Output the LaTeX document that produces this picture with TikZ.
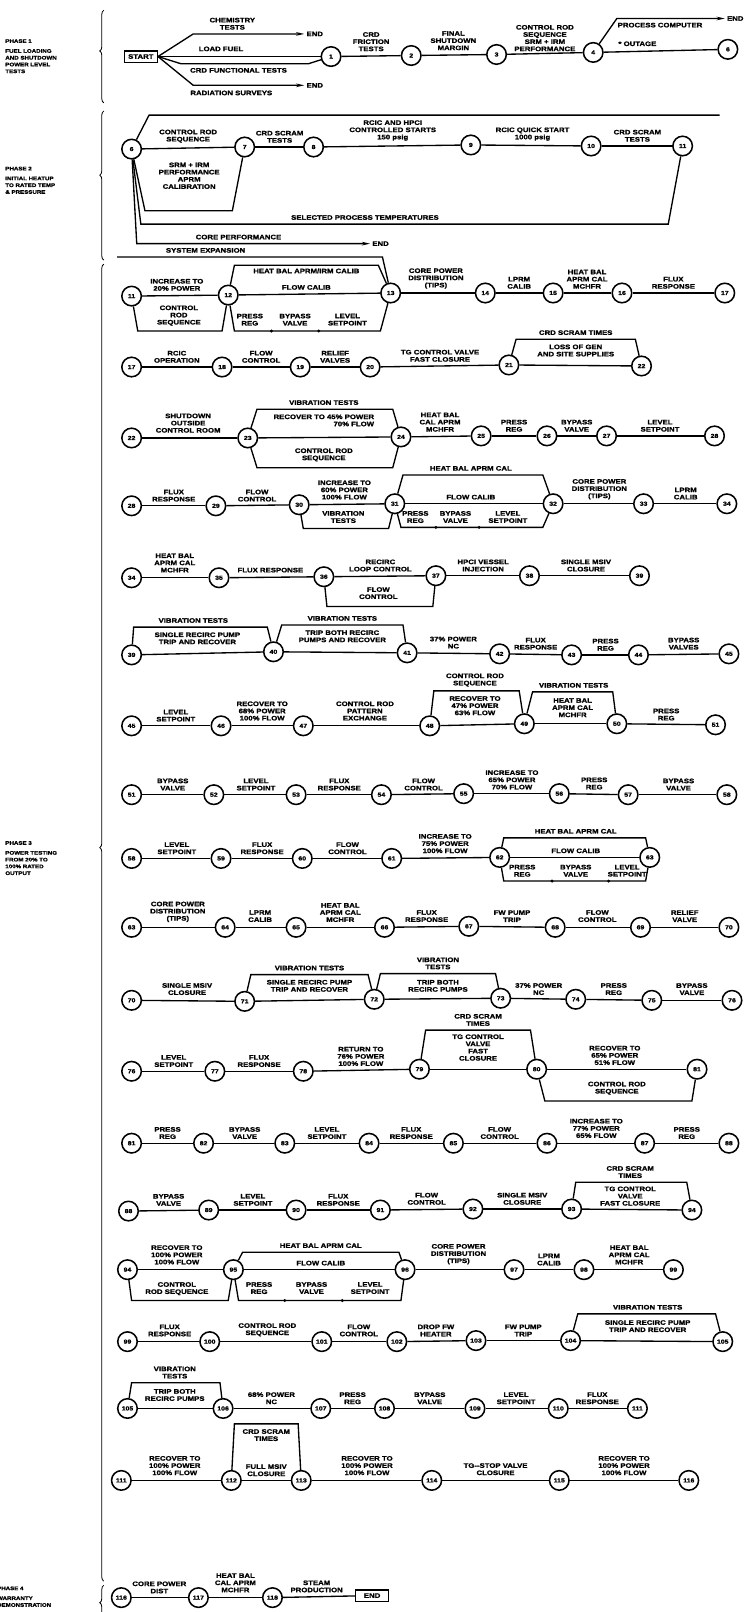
\documentclass[tikz,border=0pt]{standalone}
\usepackage{fontspec}
\newfontfamily\lblfont{Liberation Sans}[FakeStretch=1.2,BoldFeatures={FakeBold=1.3}]
\usetikzlibrary{arrows.meta,decorations.pathreplacing}
\newcommand\dfont{\lblfont\fontsize{6.3}{7}\selectfont\bfseries}
\newcommand\nfont{\lblfont\fontsize{5.6}{5.6}\selectfont\bfseries}
\newcommand\sfont{\lblfont\fontsize{5}{6.6}\selectfont\bfseries}
\newcounter{lbc}
\newcommand\Ab[3]{\stepcounter{lbc}\node[lb,anchor=south] (L\number\value{lbc}) at (#1,#2) {#3};}
\newcommand\Bl[3]{\stepcounter{lbc}\node[lb,anchor=north] (L\number\value{lbc}) at (#1,#2) {#3};}
\newcommand\chain[2]{\foreach \a/\b in {#2} \draw[ln] (#1\a) -- (#1\b);}
\tikzset{
 cir/.style={circle,draw,line width=1.5pt,minimum size=19pt,inner sep=0pt,font=\nfont,fill=white},
 ln/.style={line width=1.3pt},
 lb/.style={align=center,font=\dfont,inner sep=0pt},
 sbox/.style={draw,line width=1.3pt,font=\dfont,inner sep=2.5pt,minimum width=32pt,minimum height=11pt},
 arr/.style={ln,-{Stealth[length=8pt,width=3.5pt]},shorten >=2pt},
 brc/.style={decorate,decoration={brace,amplitude=4pt,aspect=#1},line width=0.8pt},
 side/.style={align=left,font=\sfont,inner sep=0pt,anchor=north west},
 dt/.style={circle,fill,inner sep=0pt,minimum size=3.2pt}
}
\begin{document}
\begin{tikzpicture}[x=1pt,y=-1pt]
\path[use as bounding box,fill=white] (0,0) rectangle (724,1568);

% ---------- side labels and braces
\node[side] (s1) at (5,38) {PHASE 1\\[3pt]FUEL LOADING\\AND SHUTDOWN\\POWER LEVEL\\TESTS};
\node[side] (s2) at (5,162) {PHASE 2\\[3pt]INITIAL HEATUP\\TO RATED TEMP\\\& PRESSURE};
\node[side] (s3) at (5,818) {PHASE 3\\[3pt]POWER TESTING\\FROM 20\% TO\\100\% RATED\\OUTPUT};
\node[side] (s4) at (-3,1543) {PHASE 4\\[3pt]WARRANTY\\DEMONSTRATION};
\draw[brc=0.56] (101,100) -- (101,10);
\draw[brc=0.57] (101,253) -- (101,108);
\draw[brc=0.557] (101,1538) -- (101,257);
\draw[brc=0.5] (101,1576) -- (101,1542);

% ---------- Phase 1
\node[sbox] (start) at (137,55) {START};
\foreach \n/\x/\y in {1/322/55,2/400/54,3/483/53,4/577/51,6/708/48} \node[cir] (P\n) at (\x,\y) {\n};
\draw[ln] (start) -- (P1);
\chain{P}{1/2,2/3,3/4,4/6}
\node[lb,anchor=west] (e1) at (298,33) {END};
\draw[arr] (start.east) -- (188,33) -- (e1);
\draw[ln] (start.east) -- (176,62) -- (300,62) -- (P1);
\node[lb,anchor=west] (e2) at (298,83) {END};
\draw[arr] (start.east) -- (188,83) -- (e2);
\node[lb,anchor=west] (e3) at (707,18) {END};
\draw[arr] (P4) -- (600,18) -- (e3);
\Ab{226}{29}{CHEMISTRY\\TESTS}
\Ab{215}{50}{LOAD FUEL}
\Bl{232}{66}{CRD FUNCTIONAL TESTS}
\Bl{225}{88}{RADIATION SURVEYS}
\Ab{361}{50}{CRD\\FRICTION\\TESTS}
\Ab{441}{49}{FINAL\\SHUTDOWN\\MARGIN}
\Ab{530}{50}{CONTROL ROD\\SEQUENCE\\SRM + IRM\\PERFORMANCE}
\Bl{642}{22}{PROCESS COMPUTER}
\Ab{620}{45}{* OUTAGE}

% ---------- Phase 2
\foreach \n/\x/\y in {6/128/145,7/238/143,8/305/143,9/458/141,10/575/142,11/664/142} \node[cir] (H\n) at (\x,\y) {\n};
\chain{H}{6/7,7/8,8/9,9/10,10/11}
\coordinate (t2) at (700,112);
\draw[ln] (H6) -- (145,112) -- (t2);
\draw[ln] (H6) -- (141,205) -- (226,205) -- (H7);
\draw[ln] (H6) -- (137,218) -- (650,218) -- (H11);
\node[lb,anchor=west] (e4) at (362,237) {END};
\draw[arr] (H6) -- (133,237) -- (e4);
\Ab{183}{139}{CONTROL ROD\\SEQUENCE}
\Bl{184}{158}{SRM + IRM\\PERFORMANCE\\APRM\\CALIBRATION}
\Ab{272}{139}{CRD SCRAM\\TESTS}
\Ab{382}{137}{RCIC AND HPCI\\CONTROLLED STARTS\\150 psig}
\Ab{518}{137}{RCIC QUICK START\\1000 psig}
\Ab{620}{138}{CRD SCRAM\\TESTS}
\Ab{355}{214}{SELECTED PROCESS TEMPERATURES}
\Ab{232}{233}{CORE PERFORMANCE}

% ---------- Row A (11-17)
\foreach \n/\x/\y in {11/128/288,12/222/287,13/380/285,14/472/285,15/538/285,16/605/285,17/705/285} \node[cir] (A\n) at (\x,\y) {\n};
\chain{A}{11/12,12/13,13/14,14/15,15/16,16/17}
\coordinate (sx) at (114,250);
\draw[ln] (sx) -- (372,250) -- (A13);
\draw[ln] (A12) -- (228,258) -- (368,258) -- (A13);
\draw[ln] (A11) -- (134,322) -- (216,322) -- (A12);
\draw[ln] (A12) -- (228,322) -- (370,322) -- (A13);
\node[dt] (dA1) at (264,322) {}; \node[dt] (dA2) at (310,322) {};
\Ab{200}{246}{SYSTEM EXPANSION}
\Bl{298}{261}{HEAT BAL APRM/IRM CALIB}
\Ab{298}{282}{FLOW CALIB}
\Ab{172}{283}{INCREASE TO\\20\% POWER}
\Bl{174}{297}{CONTROL\\ROD\\SEQUENCE}
\Bl{243}{305}{PRESS\\REG}
\Bl{287}{305}{BYPASS\\VALVE}
\Bl{338}{305}{LEVEL\\SETPOINT}
\Ab{424}{281}{CORE POWER\\DISTRIBUTION\\(TIPS)}
\Ab{505}{281}{LPRM\\CALIB}
\Ab{571}{281}{HEAT BAL\\APRM CAL\\MCHFR}
\Ab{655}{281}{FLUX\\RESPONSE}

% ---------- Row B (17-22)
\foreach \n/\x/\y in {17/128/357,18/216/357,19/292/357,20/360/357,21/495/355,22/624/356} \node[cir] (B\n) at (\x,\y) {\n};
\chain{B}{17/18,18/19,19/20,20/21,21/22}
\draw[ln] (B21) -- (502,330) -- (618,330) -- (B22);
\Ab{172}{353}{RCIC\\OPERATION}
\Ab{254}{353}{FLOW\\CONTROL}
\Ab{326}{353}{RELIEF\\VALVES}
\Ab{428}{352}{TG CONTROL VALVE\\FAST CLOSURE}
\Ab{560}{326}{CRD SCRAM TIMES}
\Bl{560}{335}{LOSS OF GEN\\AND SITE SUPPLIES}

% ---------- Row C (22-28)
\foreach \n/\x/\y in {22/128/426,23/241/426,24/390/425,25/468/424,26/532/424,27/590/424,28/695/424} \node[cir] (C\n) at (\x,\y) {\n};
\chain{C}{22/23,23/24,24/25,25/26,26/27,27/28}
\draw[ln] (C23) -- (250,398) -- (382,398) -- (C24);
\draw[ln] (C23) -- (250,455) -- (382,455) -- (C24);
\Ab{183}{421}{SHUTDOWN\\OUTSIDE\\CONTROL ROOM}
\Ab{315}{394}{VIBRATION TESTS}
\stepcounter{lbc}\node[lb,align=right,anchor=north] (L\number\value{lbc}) at (315,403) {RECOVER TO 45\% POWER\\70\% FLOW};
\Bl{315}{436}{CONTROL ROD\\SEQUENCE}
\Ab{428}{420}{HEAT BAL\\CAL APRM\\MCHFR}
\Ab{500}{420}{PRESS\\REG}
\Ab{561}{420}{BYPASS\\VALVE}
\Ab{642}{420}{LEVEL\\SETPOINT}

% ---------- Row D (28-34)
\foreach \n/\x/\y in {28/128/492,29/210/492,30/291/491,31/384/490,32/538/490,33/626/490,34/707/490} \node[cir] (D\n) at (\x,\y) {\n};
\chain{D}{28/29,29/30,30/31,31/32,32/33,33/34}
\draw[ln] (D31) -- (392,462) -- (528,462) -- (D32);
\draw[ln] (D31) -- (390,513) -- (528,513) -- (D32);
\draw[ln] (D30) -- (295,514) -- (378,514) -- (D31);
\node[dt] (dD1) at (424,513) {}; \node[dt] (dD2) at (466,513) {};
\Ab{169}{488}{FLUX\\RESPONSE}
\Ab{250}{488}{FLOW\\CONTROL}
\Ab{335}{486}{INCREASE TO\\60\% POWER\\100\% FLOW}
\Ab{458}{458}{HEAT BAL APRM CAL}
\Ab{458}{486}{FLOW CALIB}
\Bl{404}{497}{PRESS\\REG}
\Bl{443}{497}{BYPASS\\VALVE}
\Bl{494}{497}{LEVEL\\SETPOINT}
\Bl{334}{497}{VIBRATION\\TESTS}
\Ab{583}{486}{CORE POWER\\DISTRIBUTION\\(TIPS)}
\Ab{667}{486}{LPRM\\CALIB}

% ---------- Row E (34-39)
\foreach \n/\x/\y in {34/128/562,35/213/562,36/315/561,37/424/560,38/515/560,39/622/560} \node[cir] (E\n) at (\x,\y) {\n};
\chain{E}{34/35,35/36,36/37,37/38,38/39}
\draw[ln] (E36) -- (318,590) -- (421,590) -- (E37);
\Ab{170}{557}{HEAT BAL\\APRM CAL\\MCHFR}
\Ab{263}{557}{FLUX RESPONSE}
\Ab{370}{556}{RECIRC\\LOOP CONTROL}
\Bl{368}{571}{FLOW\\CONTROL}
\Ab{470}{556}{HPCI VESSEL\\INJECTION}
\Ab{570}{556}{SINGLE MSIV\\CLOSURE}

% ---------- Row F (39-45)
\foreach \n/\x/\y in {39/128/637,40/266/634,41/396/635,42/486/636,43/556/637,44/621/637,45/709/636} \node[cir] (F\n) at (\x,\y) {\n};
\chain{F}{39/40,40/41,41/42,42/43,43/44,44/45}
\draw[ln] (F39) -- (130,610) -- (260,610) -- (F40);
\draw[ln] (F40) -- (274,608) -- (392,608) -- (F41);
\Ab{188}{606}{VIBRATION TESTS}
\Bl{192}{615}{SINGLE RECIRC PUMP\\TRIP AND RECOVER}
\Ab{333}{604}{VIBRATION TESTS}
\Bl{333}{613}{TRIP BOTH RECIRC\\PUMPS AND RECOVER}
\Ab{441}{631}{37\% POWER\\NC}
\Ab{521}{632}{FLUX\\RESPONSE}
\Ab{589}{633}{PRESS\\REG}
\Ab{665}{632}{BYPASS\\VALVES}

% ---------- Row G (45-51)
\foreach \n/\x/\y in {45/128/706,46/215/706,47/295/706,48/418/706,49/510/704,50/600/704,51/696/705} \node[cir] (G\n) at (\x,\y) {\n};
\chain{G}{45/46,46/47,47/48,48/49,49/50,50/51}
\draw[ln] (G48) -- (422,672) -- (505,672) -- (G49);
\draw[ln] (G49) -- (518,673) -- (596,673) -- (G50);
\Ab{171}{702}{LEVEL\\SETPOINT}
\Ab{255}{701}{RECOVER TO\\68\% POWER\\100\% FLOW}
\Ab{355}{701}{CONTROL ROD\\PATTERN\\EXCHANGE}
\Ab{462}{668}{CONTROL ROD\\SEQUENCE}
\Bl{462}{677}{RECOVER TO\\47\% POWER\\63\% FLOW}
\Ab{558}{669}{VIBRATION TESTS}
\Bl{557}{679}{HEAT BAL\\APRM CAL\\MCHFR}
\Ab{648}{701}{PRESS\\REG}

% ---------- Row H (51-58)
\foreach \n/\x/\y in {51/128/773,52/208/773,53/288/773,54/371/773,55/451/772,56/544/772,57/611/773,58/707/773} \node[cir] (R\n) at (\x,\y) {\n};
\chain{R}{51/52,52/53,53/54,54/55,55/56,56/57,57/58}
\Ab{168}{769}{BYPASS\\VALVE}
\Ab{249}{769}{LEVEL\\SETPOINT}
\Ab{330}{769}{FLUX\\RESPONSE}
\Ab{412}{769}{FLOW\\CONTROL}
\Ab{498}{768}{INCREASE TO\\65\% POWER\\70\% FLOW}
\Ab{578}{768}{PRESS\\REG}
\Ab{660}{769}{BYPASS\\VALVE}

% ---------- Row I (58-63)
\foreach \n/\x/\y in {58/128/835,59/215/835,60/294/835,61/381/835,62/486/834,63/632/834} \node[cir] (I\n) at (\x,\y) {\n};
\chain{I}{58/59,59/60,60/61,61/62,62/63}
\draw[ln] (I62) -- (490,815) -- (628,815) -- (I63);
\draw[ln] (I62) -- (490,857) -- (628,857) -- (I63);
\node[dt] (dI1) at (537,857) {}; \node[dt] (dI2) at (592,857) {};
\Ab{172}{831}{LEVEL\\SETPOINT}
\Ab{255}{831}{FLUX\\RESPONSE}
\Ab{338}{831}{FLOW\\CONTROL}
\Ab{433}{830}{INCREASE TO\\75\% POWER\\100\% FLOW}
\Ab{560}{811}{HEAT BAL APRM CAL}
\Ab{560}{830}{FLOW CALIB}
\Bl{508}{841}{PRESS\\REG}
\Bl{560}{841}{BYPASS\\VALVE}
\Bl{610}{841}{LEVEL\\SETPOINT}

% ---------- Row J (63-70)
\foreach \n/\x/\y in {63/128/902,64/219/902,65/288/902,66/374/902,67/456/901,68/540/902,69/623/902,70/709/902} \node[cir] (J\n) at (\x,\y) {\n};
\chain{J}{63/64,64/65,65/66,66/67,67/68,68/69,69/70}
\Ab{173}{897}{CORE POWER\\DISTRIBUTION\\(TIPS)}
\Ab{253}{897}{LPRM\\CALIB}
\Ab{331}{897}{HEAT BAL\\APRM CAL\\MCHFR}
\Ab{415}{897}{FLUX\\RESPONSE}
\Ab{498}{897}{FW PUMP\\TRIP}
\Ab{581}{897}{FLOW\\CONTROL}
\Ab{666}{897}{RELIEF\\VALVE}

% ---------- Row K (70-76)
\foreach \n/\x/\y in {70/128/973,71/238/974,72/364/972,73/487/971,74/560/972,75/634/973,76/712/973} \node[cir] (K\n) at (\x,\y) {\n};
\chain{K}{70/71,71/72,72/73,73/74,74/75,75/76}
\draw[ln] (K71) -- (244,948) -- (358,948) -- (K72);
\draw[ln] (K72) -- (370,947) -- (482,947) -- (K73);
\Ab{182}{968}{SINGLE MSIV\\CLOSURE}
\Ab{301}{944}{VIBRATION TESTS}
\Bl{301}{953}{SINGLE RECIRC PUMP\\TRIP AND RECOVER}
\Ab{426}{943}{VIBRATION\\TESTS}
\Bl{426}{953}{TRIP BOTH\\RECIRC PUMPS}
\Ab{524}{968}{37\% POWER\\NC}
\Ab{597}{968}{PRESS\\REG}
\Ab{673}{968}{BYPASS\\VALVE}

% ---------- Row L (76-81)
\foreach \n/\x/\y in {76/128/1042,77/209/1042,78/295/1042,79/408/1040,80/522/1040,81/678/1040} \node[cir] (M\n) at (\x,\y) {\n};
\chain{M}{76/77,77/78,78/79,79/80,80/81}
\draw[ln] (M79) -- (414,1002) -- (516,1002) -- (M80);
\draw[ln] (M80) -- (530,1071) -- (673,1071) -- (M81);
\Ab{169}{1038}{LEVEL\\SETPOINT}
\Ab{252}{1038}{FLUX\\RESPONSE}
\Ab{351}{1037}{RETURN TO\\76\% POWER\\100\% FLOW}
\Ab{465}{998}{CRD SCRAM\\TIMES}
\Bl{465}{1006}{TG CONTROL\\VALVE\\FAST\\CLOSURE}
\Ab{598}{1036}{RECOVER TO\\65\% POWER\\51\% FLOW}
\Bl{600}{1052}{CONTROL ROD\\SEQUENCE}

% ---------- Row M (81-88)
\foreach \n/\x/\y in {81/128/1112,82/198/1112,83/277/1112,84/359/1112,85/441/1112,86/532/1112,87/627/1112,88/709/1112} \node[cir] (N\n) at (\x,\y) {\n};
\chain{N}{81/82,82/83,83/84,84/85,85/86,86/87,87/88}
\Ab{163}{1108}{PRESS\\REG}
\Ab{238}{1108}{BYPASS\\VALVE}
\Ab{318}{1108}{LEVEL\\SETPOINT}
\Ab{400}{1108}{FLUX\\RESPONSE}
\Ab{486}{1108}{FLOW\\CONTROL}
\Ab{580}{1107}{INCREASE TO\\77\% POWER\\65\% FLOW}
\Ab{668}{1108}{PRESS\\REG}

% ---------- Row N (88-94)
\foreach \n/\x/\y in {88/125/1178,89/203/1177,90/288/1177,91/370/1177,92/460/1176,93/556/1176,94/673/1177} \node[cir] (O\n) at (\x,\y) {\n};
\chain{O}{88/89,89/90,90/91,91/92,92/93,93/94}
\draw[ln] (O93) -- (560,1150) -- (668,1150) -- (O94);
\Ab{164}{1173}{BYPASS\\VALVE}
\Ab{246}{1173}{LEVEL\\SETPOINT}
\Ab{329}{1173}{FLUX\\RESPONSE}
\Ab{415}{1172}{FLOW\\CONTROL}
\Ab{508}{1172}{SINGLE MSIV\\CLOSURE}
\Ab{613}{1146}{CRD SCRAM\\TIMES}
\Bl{613}{1154}{TG CONTROL\\VALVE\\FAST CLOSURE}

% ---------- Row O (94-99)
\foreach \n/\x/\y in {94/124/1235,95/227/1235,96/394/1235,97/500/1235,98/568/1235,99/655/1235} \node[cir] (S\n) at (\x,\y) {\n};
\chain{S}{94/95,95/96,96/97,97/98,98/99}
\draw[ln] (S94) -- (128,1265) -- (222,1265) -- (S95);
\draw[ln] (S95) -- (236,1218) -- (388,1218) -- (S96);
\draw[ln] (S95) -- (232,1265) -- (390,1265) -- (S96);
\node[dt] (dS1) at (277,1265) {}; \node[dt] (dS2) at (333,1265) {};
\Ab{172}{1230}{RECOVER TO\\100\% POWER\\100\% FLOW}
\Bl{172}{1247}{CONTROL\\ROD SEQUENCE}
\Ab{312}{1214}{HEAT BAL APRM CAL}
\Ab{312}{1231}{FLOW CALIB}
\Bl{252}{1247}{PRESS\\REG}
\Bl{303}{1247}{BYPASS\\VALVE}
\Bl{360}{1247}{LEVEL\\SETPOINT}
\Ab{446}{1230}{CORE POWER\\DISTRIBUTION\\(TIPS)}
\Ab{534}{1231}{LPRM\\CALIB}
\Ab{612}{1230}{HEAT BAL\\APRM CAL\\MCHFR}

% ---------- Row P (99-105)
\foreach \n/\x/\y in {99/124/1305,100/204/1305,101/313/1305,102/386/1305,103/463/1304,104/555/1304,105/703/1305} \node[cir] (T\n) at (\x,\y) {\n};
\chain{T}{99/100,100/101,101/102,102/103,103/104,104/105}
\draw[ln] (T104) -- (562,1278) -- (696,1278) -- (T105);
\Ab{165}{1300}{FLUX\\RESPONSE}
\Ab{260}{1300}{CONTROL ROD\\SEQUENCE}
\Ab{349}{1300}{FLOW\\CONTROL}
\Ab{424}{1300}{DROP FW\\HEATER}
\Ab{509}{1300}{FW PUMP\\TRIP}
\Ab{630}{1274}{VIBRATION TESTS}
\Bl{630}{1284}{SINGLE RECIRC PUMP\\TRIP AND RECOVER}

% ---------- Row Q (105-111)
\foreach \n/\x/\y in {105/124/1370,106/217/1370,107/312/1370,108/374/1370,109/462/1370,110/543/1370,111/620/1370} \node[cir] (U\n) at (\x,\y) {\n};
\chain{U}{105/106,106/107,107/108,108/109,109/110,110/111}
\draw[ln] (U105) -- (128,1345) -- (214,1345) -- (U106);
\Ab{170}{1341}{VIBRATION\\TESTS}
\Bl{170}{1351}{TRIP BOTH\\RECIRC PUMPS}
\Ab{264}{1366}{68\% POWER\\NC}
\Ab{343}{1366}{PRESS\\REG}
\Ab{418}{1366}{BYPASS\\VALVE}
\Ab{502}{1366}{LEVEL\\SETPOINT}
\Ab{581}{1366}{FLUX\\RESPONSE}

% ---------- Row R (111-116)
\foreach \n/\x/\y in {111/118/1440,112/225/1440,113/293/1440,114/420/1440,115/544/1440,116/670/1440} \node[cir] (V\n) at (\x,\y) {\n};
\chain{V}{111/112,112/113,113/114,114/115,115/116}
\draw[ln] (V112) -- (228,1385) -- (290,1385) -- (V113);
\Ab{170}{1435}{RECOVER TO\\100\% POWER\\100\% FLOW}
\Bl{259}{1390}{CRD SCRAM\\TIMES}
\Ab{259}{1436}{FULL MSIV\\CLOSURE}
\Ab{357}{1435}{RECOVER TO\\100\% POWER\\100\% FLOW}
\Ab{482}{1435}{TG--STOP VALVE\\CLOSURE}
\Ab{607}{1435}{RECOVER TO\\100\% POWER\\100\% FLOW}

% ---------- Phase 4
\foreach \n/\x/\y in {116/118/1554,117/193/1554,118/265/1554} \node[cir] (W\n) at (\x,\y) {\n};
\node[sbox] (wend) at (362,1552) {END};
\chain{W}{116/117,117/118}
\draw[ln] (W118) -- (wend);
\Ab{155}{1550}{CORE POWER\\DIST}
\Ab{229}{1549}{HEAT BAL\\CAL APRM\\MCHFR}
\Ab{308}{1549}{STEAM\\PRODUCTION}
\end{tikzpicture}
\end{document}
